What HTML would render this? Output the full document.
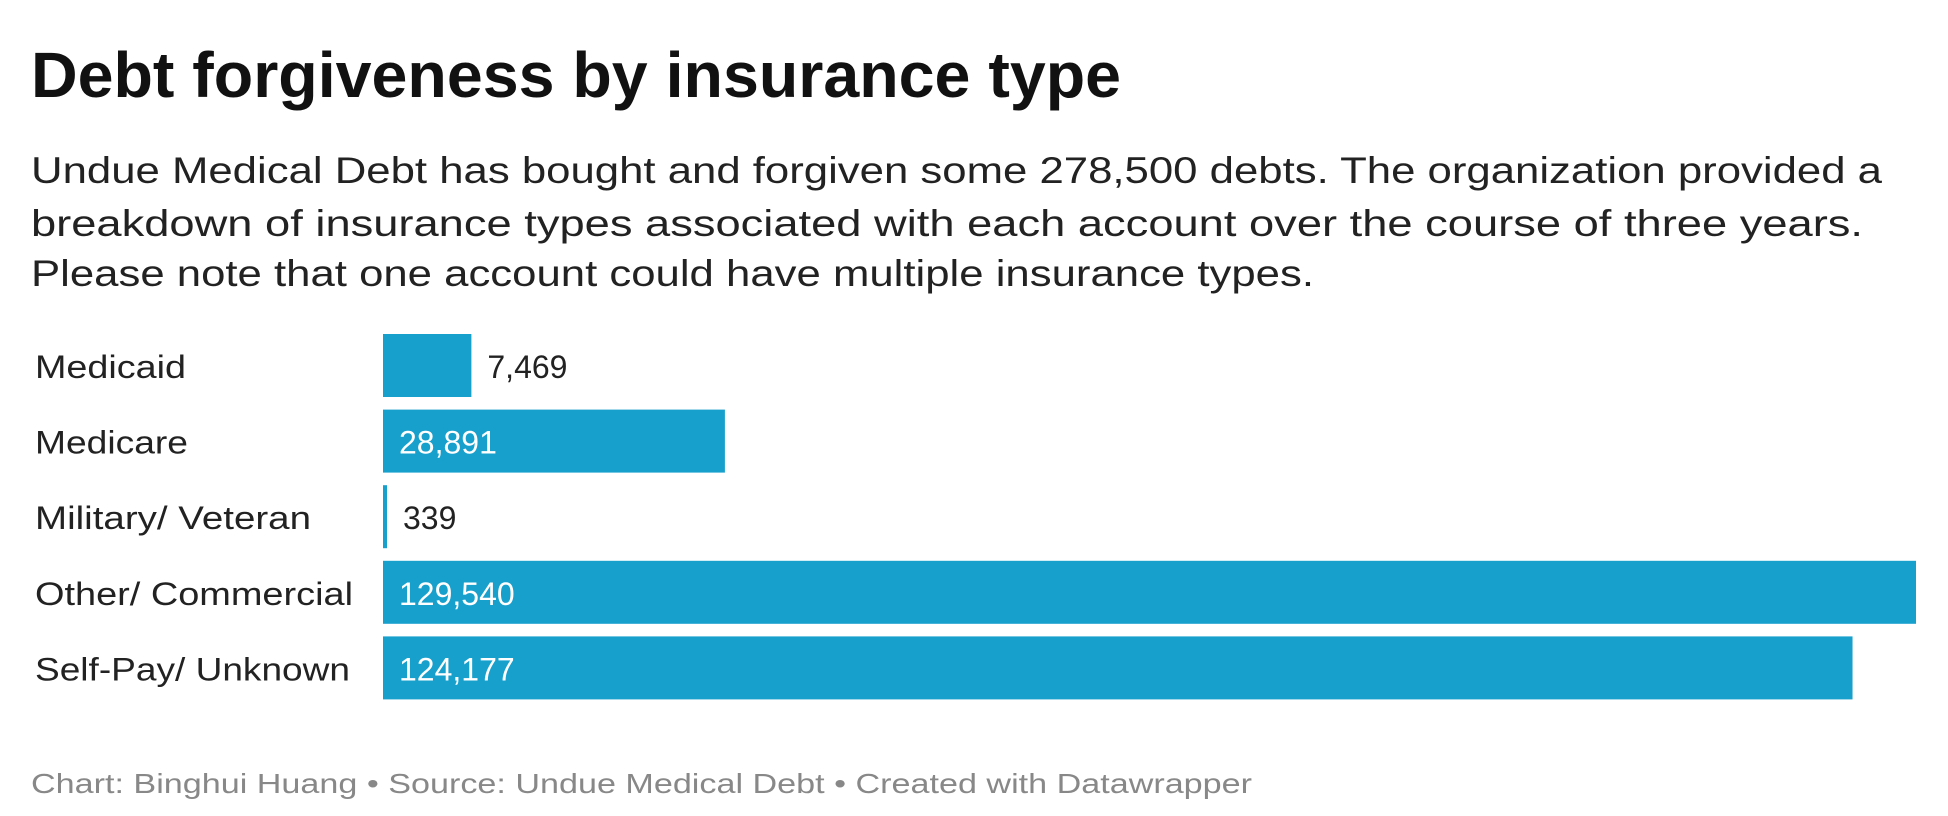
<!DOCTYPE html>
<html><head><meta charset="utf-8"><style>
html,body{margin:0;padding:0;background:#fff;width:1948px;height:816px;overflow:hidden}
svg{display:block;font-family:"Liberation Sans",sans-serif}
</style></head><body>
<svg id="chart" width="1948" height="816" viewBox="0 0 1948 816">
<text x="31" y="97" font-size="64" font-weight="bold" fill="#111" textLength="1090" lengthAdjust="spacingAndGlyphs">Debt forgiveness by insurance type</text>
<g fill="#222" font-size="37">
<text x="31" y="183" textLength="1851" lengthAdjust="spacingAndGlyphs">Undue Medical Debt has bought and forgiven some 278,500 debts. The organization provided a</text>
<text x="31" y="236" textLength="1832" lengthAdjust="spacingAndGlyphs">breakdown of insurance types associated with each account over the course of three years.</text>
<text x="31" y="286" textLength="1283" lengthAdjust="spacingAndGlyphs">Please note that one account could have multiple insurance types.</text>
</g>
<g id="bars"></g>
<text x="31" y="793" font-size="28" fill="#888" textLength="1221" lengthAdjust="spacingAndGlyphs">Chart: Binghui Huang • Source: Undue Medical Debt  • Created with Datawrapper</text>
</svg>
<script>
const categories = ["Medicaid","Medicare","Military/ Veteran","Other/ Commercial","Self-Pay/ Unknown"];
const values = [7469, 28891, 339, 129540, 124177];
const valueLabels = ["7,469","28,891","339","129,540","124,177"];
const labelWidths = [151, 153, 276, 318, 315];

const NS = "http://www.w3.org/2000/svg";
const g = document.getElementById("bars");
const x0 = 383, x1 = 1916;
const maxV = Math.max.apply(null, values);
function xScale(v){ return x0 + (x1 - x0) * v / maxV; }
const top0 = 334, step = 75.6, barH = 63;
function yScale(i){ return top0 + i * step; }

categories.forEach(function(c, i){
  const y = yScale(i);
  const lab = document.createElementNS(NS, "text");
  
  
  lab.setAttribute("x", 35);
  lab.setAttribute("y", y + 44);
  lab.setAttribute("font-size", "32");
  lab.setAttribute("fill", "#222");
  lab.setAttribute("textLength", labelWidths[i]);
  lab.setAttribute("lengthAdjust", "spacingAndGlyphs");
  lab.textContent = c;
  g.appendChild(lab);

  const w = Math.max(xScale(values[i]) - x0, 1);
  const r = document.createElementNS(NS, "rect");
  
  
  r.setAttribute("x", x0);
  r.setAttribute("y", y);
  r.setAttribute("width", w);
  r.setAttribute("height", barH);
  r.setAttribute("fill", "#18a0cd");
  g.appendChild(r);

  const t = document.createElementNS(NS, "text");
  
  
  t.setAttribute("font-size", "32");
  t.setAttribute("y", y + 44);
  const inside = w > 150;
  t.setAttribute("x", inside ? x0 + 16 : x0 + w + 16);
  t.setAttribute("fill", inside ? "#fff" : "#222");
  t.textContent = valueLabels[i];
  g.appendChild(t);
});
</script>
</body></html>
